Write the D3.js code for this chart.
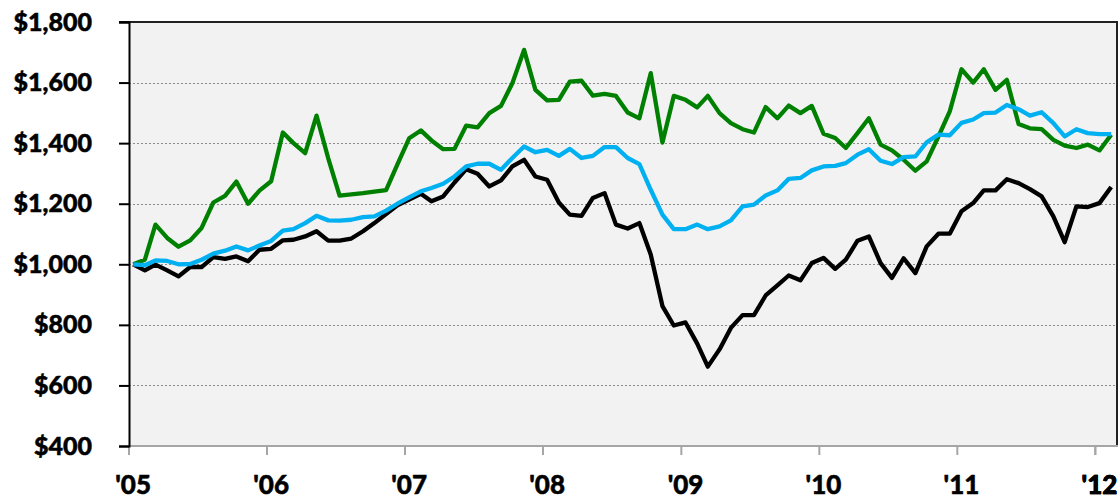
<!DOCTYPE html>
<html>
<head>
<meta charset="utf-8">
<script src="https://cdn.jsdelivr.net/npm/d3@7"></script>
<style>
  body { margin: 0; background: #fff; }
  svg text { font-family: Lato, "Open Sans", sans-serif; font-weight: 900; fill: #000;
    stroke: #000; stroke-width: 0.5px; }
</style>
</head>
<body>
<script>
  /* DATA: growth of $1,000, monthly, Jan 2005 - Feb 2012 */
  var months = d3.timeMonth.range(new Date(2005, 0, 1), new Date(2012, 2, 1));

  var greenValues = [1000, 1015, 1131, 1087, 1058, 1079, 1120, 1204, 1226, 1273, 1200, 1243,
    1274, 1435, 1400, 1367, 1491, 1350, 1227, 1231, 1235, 1240, 1245, 1330,
    1416, 1442, 1409, 1380, 1381, 1458, 1452, 1499, 1523, 1598, 1708, 1576,
    1541, 1543, 1603, 1606, 1557, 1563, 1556, 1501, 1482, 1631, 1402, 1556,
    1543, 1518, 1556, 1499, 1466, 1446, 1435, 1519, 1482, 1524, 1499, 1523,
    1431, 1417, 1384, 1433, 1482, 1395, 1376, 1345, 1309, 1340, 1422, 1505,
    1644, 1600, 1644, 1576, 1609, 1463, 1449, 1446, 1411, 1392, 1384, 1395,
    1376, 1428];

  var blueValues = [1000, 997, 1013, 1011, 1000, 1001, 1015, 1035, 1045, 1059, 1046, 1062,
    1077, 1111, 1116, 1136, 1160, 1145, 1144, 1147, 1156, 1158, 1177, 1200,
    1221, 1241, 1252, 1266, 1290, 1323, 1332, 1332, 1312, 1351, 1389, 1370,
    1378, 1358, 1381, 1351, 1358, 1387, 1387, 1351, 1331, 1246, 1164, 1116,
    1116, 1131, 1116, 1125, 1145, 1191, 1197, 1227, 1244, 1282, 1285, 1310,
    1323, 1325, 1334, 1362, 1380, 1342, 1331, 1354, 1356, 1403, 1428, 1426,
    1467, 1478, 1499, 1501, 1526, 1512, 1491, 1502, 1466, 1422, 1446, 1433,
    1430, 1430];

  var blackValues = [1000, 980, 999, 980, 960, 991, 991, 1024, 1018, 1026, 1010, 1048,
    1051, 1079, 1081, 1092, 1109, 1078, 1078, 1085, 1109, 1136, 1166, 1195,
    1214, 1233, 1208, 1224, 1270, 1314, 1299, 1257, 1277, 1323, 1345, 1290,
    1279, 1204, 1164, 1160, 1219, 1235, 1131, 1118, 1136, 1032, 862, 798,
    808, 738, 662, 719, 790, 832, 832, 897, 930, 963, 947, 1004,
    1021, 985, 1015, 1078, 1092, 1004, 955, 1020, 971, 1059, 1101, 1101,
    1175, 1202, 1244, 1244, 1281, 1268, 1248, 1224, 1158, 1073, 1191, 1189,
    1202, 1255];

  var yTicks = [400, 600, 800, 1000, 1200, 1400, 1600, 1800];
  var yearTicks = d3.timeYear.range(new Date(2005, 0, 1), new Date(2012, 1, 1));

  /* DIMENSIONS */
  var width = 1120;
  var height = 501;
  var margin = { top: 22, left: 129, right: 2, bottom: 55 };

  var svg = d3.select("body")
    .append("svg")
    .attr("width", width)
    .attr("height", height);

  var xScale = d3.scaleTime()
    .domain([new Date(2005, 0, 1), new Date(2012, 2, 1)])
    .range([margin.left, width - margin.right]);

  var yScale = d3.scaleLinear()
    .domain([400, 1800])
    .range([height - margin.bottom, margin.top]);

  // points sit a little into each month, like the original
  var pointDate = function(m) { return d3.timeDay.offset(m, 11); };

  // plot background
  svg.append("rect")
    .attr("x", xScale.range()[0])
    .attr("y", yScale(1800))
    .attr("width", xScale.range()[1] - xScale.range()[0])
    .attr("height", yScale(400) - yScale(1800))
    .attr("fill", "#f2f2f2");

  // dotted gridlines
  svg.append("g")
    .selectAll("line")
    .data(yTicks.filter(function(d) { return d > 400 && d < 1800; }))
    .enter()
    .append("line")
    .attr("x1", xScale.range()[0])
    .attr("x2", xScale.range()[1])
    .attr("y1", function(d) { return Math.round(yScale(d)) + 0.5; })
    .attr("y2", function(d) { return Math.round(yScale(d)) + 0.5; })
    .attr("stroke", "#8c8c8c")
    .attr("stroke-width", 1)
    .attr("stroke-dasharray", "2,2");

  // top + right border
  svg.append("path")
    .attr("d", "M" + (xScale.range()[0] - 10) + "," + yScale(1800) +
      "H" + (xScale.range()[1] - 1) + "V" + yScale(400))
    .attr("fill", "none")
    .attr("stroke", "#222")
    .attr("stroke-width", 2);

  // x axis
  var xAxis = svg.append("g")
    .attr("transform", "translate(0," + yScale(400) + ")");
  xAxis.append("line")
    .attr("x1", xScale.range()[0])
    .attr("x2", xScale.range()[1])
    .attr("stroke", "#a6a6a6")
    .attr("stroke-width", 2);
  xAxis.selectAll("line.tick")
    .data(yearTicks.concat([new Date(2012, 0, 1)]))
    .enter()
    .append("line")
    .attr("class", "tick")
    .attr("x1", function(d) { return xScale(d); })
    .attr("x2", function(d) { return xScale(d); })
    .attr("y1", 0)
    .attr("y2", 9)
    .attr("stroke", "#a6a6a6")
    .attr("stroke-width", 2);
  xAxis.selectAll("text")
    .data(yearTicks.concat([new Date(2012, 0, 1)]))
    .enter()
    .append("text")
    .attr("x", function(d) { return xScale(pointDate(d)); })
    .attr("y", 48)
    .attr("text-anchor", "middle")
    .style("font-size", "26px")
    .text(function(d) { return "'" + d3.timeFormat("%y")(d); });

  // y axis
  var yAxis = svg.append("g")
    .attr("transform", "translate(" + margin.left + ",0)")
    .call(d3.axisLeft(yScale)
      .tickValues(yTicks)
      .tickSize(10)
      .tickPadding(27)
      .tickFormat(function(d) { return "$" + d3.format(",")(d); }));
  yAxis.select(".domain")
    .attr("stroke", "#000")
    .attr("stroke-width", 2);
  yAxis.selectAll(".tick line")
    .attr("stroke", "#000")
    .attr("stroke-width", 2);
  yAxis.selectAll(".tick text")
    .attr("font-family", null)
    .style("font-size", "25px");

  // lines
  var drawLine = d3.line()
    .x(function(d) { return xScale(pointDate(d.date)); })
    .y(function(d) { return yScale(d.value); });

  var series = [
    { values: greenValues, color: "#008000" },
    { values: blackValues, color: "#000000" },
    { values: blueValues, color: "#00b0f0" }
  ];

  series.forEach(function(s) {
    var pts = s.values.map(function(v, i) { return { date: months[i], value: v }; });
    svg.append("path")
      .datum(pts)
      .attr("fill", "none")
      .attr("stroke", s.color)
      .attr("stroke-width", 4.3)
      .attr("stroke-linejoin", "round")
      .attr("d", drawLine);
  });
</script>
</body>
</html>
